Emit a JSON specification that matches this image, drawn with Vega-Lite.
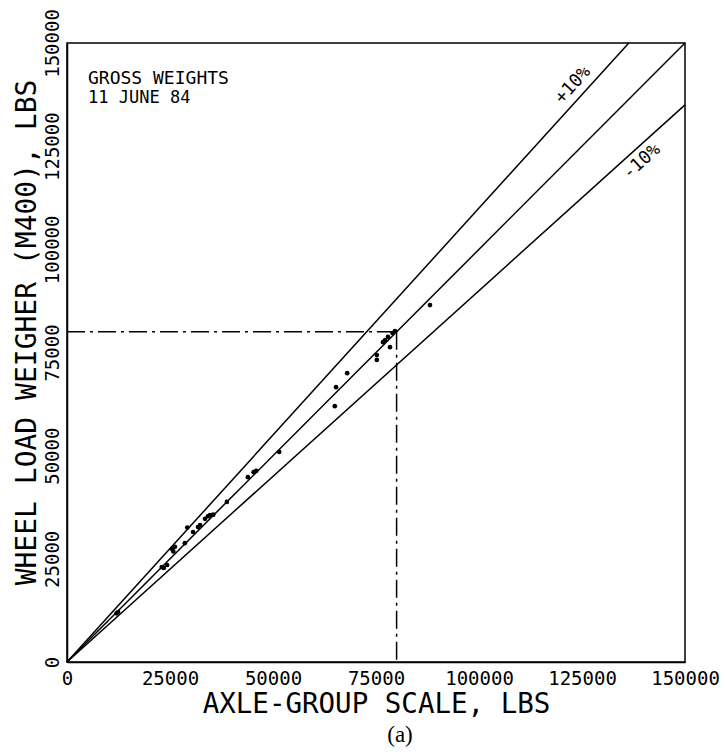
{
  "$schema": "https://vega.github.io/schema/vega-lite/v6.json",
  "width": 618,
  "height": 619,
  "autosize": {"type": "none"},
  "padding": {"left": 67, "top": 43, "right": 40, "bottom": 92},
  "background": "white",
  "title": {"text": "(a)", "orient": "bottom", "font": "Liberation Serif", "fontSize": 23, "fontWeight": "normal", "color": "black", "offset": 6, "dx": 24},
  "config": {
    "view": {"stroke": "black", "strokeWidth": 1.5},
    "axis": {
      "grid": false,
      "ticks": false,
      "domainColor": "black",
      "domainWidth": 1.5,
      "labelFont": "DejaVu Sans Mono",
      "labelFontSize": 19,
      "labelColor": "black",
      "labelOverlap": false,
      "labelFlush": false,
      "titleFont": "DejaVu Sans Mono",
      "titleFontWeight": "normal",
      "titleColor": "black"
    }
  },
  "datasets": {
    "points": [
      {"x": 12000, "y": 11800},
      {"x": 12400, "y": 12100},
      {"x": 23000, "y": 23000},
      {"x": 23500, "y": 22800},
      {"x": 24300, "y": 23500},
      {"x": 25500, "y": 27400},
      {"x": 25800, "y": 26800},
      {"x": 26200, "y": 27900},
      {"x": 28600, "y": 28800},
      {"x": 29200, "y": 32600},
      {"x": 30600, "y": 31500},
      {"x": 31800, "y": 32700},
      {"x": 32300, "y": 33200},
      {"x": 33500, "y": 34700},
      {"x": 34200, "y": 35300},
      {"x": 34700, "y": 35600},
      {"x": 35500, "y": 35700},
      {"x": 38800, "y": 38800},
      {"x": 43900, "y": 44800},
      {"x": 45300, "y": 46000},
      {"x": 45900, "y": 46300},
      {"x": 51500, "y": 50900},
      {"x": 65000, "y": 62000},
      {"x": 65300, "y": 66600},
      {"x": 68000, "y": 70000},
      {"x": 75200, "y": 73200},
      {"x": 75200, "y": 74400},
      {"x": 78400, "y": 76300},
      {"x": 76700, "y": 77500},
      {"x": 77200, "y": 78000},
      {"x": 77900, "y": 78800},
      {"x": 79000, "y": 79700},
      {"x": 79600, "y": 80200},
      {"x": 88100, "y": 86500}
    ],
    "guides": [
      {"x": 0, "y": 0, "x2": 150000, "y2": 150000},
      {"x": 0, "y": 0, "x2": 136364, "y2": 150000},
      {"x": 0, "y": 0, "x2": 150000, "y2": 135000}
    ],
    "dashes": [
      {"x": 0, "y": 80000, "x2": 80000, "y2": 80000},
      {"x": 80000, "y": 80000, "x2": 80000, "y2": 0}
    ],
    "ticks": [
      {"t": 0}, {"t": 2500}, {"t": 5000}, {"t": 7500}, {"t": 10000}, {"t": 12500}, {"t": 15000}, {"t": 17500}, {"t": 20000}, {"t": 22500},
      {"t": 25000}, {"t": 27500}, {"t": 30000}, {"t": 32500}, {"t": 35000}, {"t": 37500}, {"t": 40000}, {"t": 42500}, {"t": 45000}, {"t": 47500},
      {"t": 50000}, {"t": 52500}, {"t": 55000}, {"t": 57500}, {"t": 60000}, {"t": 62500}, {"t": 65000}, {"t": 67500}, {"t": 70000}, {"t": 72500},
      {"t": 75000}, {"t": 77500}, {"t": 80000}, {"t": 82500}, {"t": 85000}, {"t": 87500}, {"t": 90000}, {"t": 92500}, {"t": 95000}, {"t": 97500},
      {"t": 100000}, {"t": 102500}, {"t": 105000}, {"t": 107500}, {"t": 110000}, {"t": 112500}, {"t": 115000}, {"t": 117500}, {"t": 120000}, {"t": 122500},
      {"t": 125000}, {"t": 127500}, {"t": 130000}, {"t": 132500}, {"t": 135000}, {"t": 137500}, {"t": 140000}, {"t": 142500}, {"t": 145000}, {"t": 147500},
      {"t": 150000}
    ]
  },
  "encoding": {
    "x": {"field": "x", "type": "quantitative",
      "scale": {"domain": [0, 150000], "nice": false},
      "axis": {
        "title": "AXLE-GROUP SCALE, LBS",
        "titleFontSize": 27.5,
        "values": [0, 25000, 50000, 75000, 100000, 125000, 150000],
        "format": "d",
        "labelOverlap": false,
        "labelBound": false,
        "labelPadding": 7,
        "titlePadding": 2
      }
    },
    "y": {"field": "y", "type": "quantitative",
      "scale": {"domain": [0, 150000], "nice": false},
      "axis": {
        "title": "WHEEL LOAD WEIGHER (M400), LBS",
        "titleFontSize": 28,
        "titleY": 289,
        "values": [0, 25000, 50000, 75000, 100000, 125000, 150000],
        "format": "d",
        "labelAngle": -90,
        "labelAlign": "center",
        "labelBaseline": "bottom",
        "labelOverlap": false,
        "labelBound": false,
        "labelPadding": 5,
        "titlePadding": 2
      }
    }
  },
  "layer": [
    {
      "data": {"name": "ticks"},
      "mark": {"type": "rule", "color": "black", "strokeWidth": 1.3},
      "encoding": {
        "x": {"field": "t", "type": "quantitative"},
        "y": {"datum": 0},
        "y2": {"datum": 1000}
      }
    },
    {
      "data": {"name": "ticks"},
      "transform": [{"filter": "datum.t % 25000 === 0"}],
      "mark": {"type": "rule", "color": "black", "strokeWidth": 1.3},
      "encoding": {
        "x": {"field": "t", "type": "quantitative"},
        "y": {"datum": 0},
        "y2": {"datum": 2200}
      }
    },
    {
      "data": {"name": "ticks"},
      "mark": {"type": "rule", "color": "black", "strokeWidth": 1.3},
      "encoding": {
        "y": {"field": "t", "type": "quantitative"},
        "x": {"datum": 0},
        "x2": {"datum": 1000}
      }
    },
    {
      "data": {"name": "ticks"},
      "transform": [{"filter": "datum.t % 25000 === 0"}],
      "mark": {"type": "rule", "color": "black", "strokeWidth": 1.3},
      "encoding": {
        "y": {"field": "t", "type": "quantitative"},
        "x": {"datum": 0},
        "x2": {"datum": 2200}
      }
    },
    {
      "data": {"name": "guides"},
      "mark": {"type": "rule", "color": "black", "strokeWidth": 1.5},
      "encoding": {
        "x2": {"field": "x2"},
        "y2": {"field": "y2"}
      }
    },
    {
      "data": {"name": "dashes"},
      "mark": {"type": "rule", "color": "black", "strokeWidth": 1.5, "strokeDash": [18, 5, 3, 5]},
      "encoding": {
        "x2": {"field": "x2"},
        "y2": {"field": "y2"}
      }
    },
    {
      "data": {"name": "points"},
      "mark": {"type": "circle", "color": "black", "size": 22, "opacity": 1}
    },
    {
      "data": {"values": [{"label": "GROSS WEIGHTS", "x": 5100, "y": 140000}]},
      "mark": {"type": "text", "font": "DejaVu Sans Mono", "fontSize": 18, "align": "left", "baseline": "alphabetic", "color": "black"},
      "encoding": {"text": {"field": "label"}}
    },
    {
      "data": {"values": [{"label": "11 JUNE 84", "x": 5100, "y": 135500}]},
      "mark": {"type": "text", "font": "DejaVu Sans Mono", "fontSize": 17, "align": "left", "baseline": "alphabetic", "color": "black"},
      "encoding": {"text": {"field": "label"}}
    },
    {
      "data": {"values": [{"label": "+10%", "x": 122800, "y": 139800}]},
      "mark": {"type": "text", "font": "DejaVu Sans Mono", "fontSize": 18, "align": "center", "baseline": "middle", "angle": 312, "color": "black"},
      "encoding": {"text": {"field": "label"}}
    },
    {
      "data": {"values": [{"label": "-10%", "x": 139500, "y": 121200}]},
      "mark": {"type": "text", "font": "DejaVu Sans Mono", "fontSize": 18, "align": "center", "baseline": "middle", "angle": 318, "color": "black"},
      "encoding": {"text": {"field": "label"}}
    }
  ]
}
